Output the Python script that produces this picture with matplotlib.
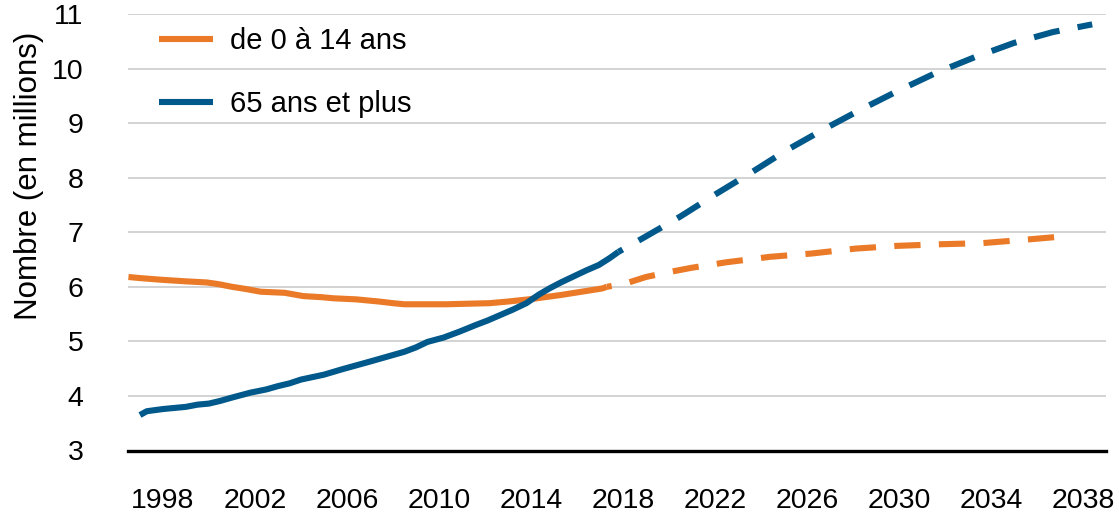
import matplotlib
matplotlib.use('Agg')
import matplotlib.pyplot as plt
from matplotlib.lines import Line2D

#Data (millions of people)
years_0_14 = [1996.5, 1997.0, 1997.9, 1999.0, 1999.9, 2000.4, 2001.0, 2001.6, 2002.25,
	2003.3, 2004.1, 2004.9, 2005.4, 2006.4, 2007.4, 2008.0, 2008.5, 2010.3, 2012.2,
	2013.0, 2013.9, 2014.6, 2015.3, 2016.2, 2017.1, 2017.3]
pop_0_14 = [6.18, 6.16, 6.13, 6.10, 6.08, 6.05, 6.00, 5.96, 5.91,
	5.89, 5.83, 5.81, 5.79, 5.77, 5.73, 5.70, 5.68, 5.68, 5.70,
	5.73, 5.77, 5.81, 5.85, 5.91, 5.97, 6.00]

years_65 = [1997.0, 1997.3, 1998.0, 1999.0, 1999.5, 2000.0, 2000.5, 2001.0, 2001.8,
	2002.5, 2003.0, 2003.5, 2004.0, 2005.0, 2005.8, 2006.4, 2007.0, 2007.5, 2008.5,
	2009.0, 2009.5, 2010.2, 2010.9, 2011.6, 2012.1, 2012.65, 2013.2, 2013.8, 2014.35,
	2014.8, 2015.3, 2015.8, 2016.4, 2016.95, 2017.4, 2017.8]
pop_65 = [3.65, 3.72, 3.76, 3.80, 3.84, 3.86, 3.91, 3.97, 4.06,
	4.12, 4.18, 4.23, 4.30, 4.39, 4.49, 4.56, 4.63, 4.69, 4.81,
	4.89, 4.99, 5.07, 5.18, 5.30, 5.38, 5.48, 5.58, 5.70, 5.86,
	5.97, 6.08, 6.18, 6.30, 6.40, 6.52, 6.64]

#Projections (dashed)
proj_years_0_14 = [2017.3, 2018.1, 2019.0, 2020.0, 2021.0, 2022.5, 2024.4, 2026.2,
	2028.1, 2029.9, 2031.8, 2033.6, 2035.4, 2037.3]
proj_0_14 = [6.00, 6.06, 6.18, 6.27, 6.35, 6.45, 6.55, 6.61,
	6.70, 6.75, 6.78, 6.80, 6.86, 6.93]

proj_years_65 = [2017.8, 2018.9, 2020.5, 2022.0, 2023.6, 2025.1, 2026.7, 2028.3,
	2029.9, 2031.6, 2033.3, 2035.0, 2036.7, 2038.4]
proj_65 = [6.64, 6.90, 7.29, 7.69, 8.10, 8.50, 8.88, 9.24,
	9.58, 9.92, 10.21, 10.47, 10.67, 10.81]

labels = ['de 0 à 14 ans', '65 ans et plus']
xticks = list(range(1998, 2039, 4))
yticks = list(range(3, 12))

ORANGE = '#EA7A28'
BLUE = '#00598A'
LW = 4.4
DASH = (3.5, (4.3, 3.0))

plt.rcParams['font.family'] = ['Liberation Sans', 'DejaVu Sans']

W, H = 1119, 512
fig = plt.figure(figsize=(W / 100, H / 100), dpi=100)
ax = fig.add_axes([128 / W, 1 - 450.5 / H, (1106 - 128) / W, (450.5 - 14) / H])

#Historic series
ax.plot(years_0_14, pop_0_14, color=ORANGE, lw=LW, solid_capstyle='butt', zorder=3)
ax.plot(years_65, pop_65, color=BLUE, lw=LW, solid_capstyle='butt', zorder=4)

#Projections, dash pattern starts with a gap
ax.plot(proj_years_0_14, proj_0_14, color=ORANGE, lw=LW,
	linestyle=DASH, dash_capstyle='butt', zorder=3)
ax.plot(proj_years_65, proj_65, color=BLUE, lw=LW,
	linestyle=DASH, dash_capstyle='butt', zorder=4)

#Axes
ax.set_xlim(1996.48, 2039.0)
ax.set_ylim(3, 11)
ax.set_xticks(xticks)
ax.set_yticks(yticks)
ax.tick_params(axis='both', length=0, labelsize=20.5)
ax.tick_params(axis='y', pad=32)
ax.tick_params(axis='x', pad=27)
for s in ['left', 'right', 'top']:
	ax.spines[s].set_visible(False)
ax.spines['bottom'].set_linewidth(2.4)
ax.spines['bottom'].set_color('black')
ax.spines['bottom'].set_zorder(5)
ax.grid(axis='y', color='#D0D0D0', lw=1.3)
ax.set_axisbelow(True)

fig.text(29 / W, 1 - 176 / H, 'Nombre (en millions)', rotation=90,
	ha='center', va='center', fontsize=22.5)

#Legend
handles = [Line2D([], [], color=ORANGE, lw=LW, solid_capstyle='butt'),
	Line2D([], [], color=BLUE, lw=LW, solid_capstyle='butt')]
ax.legend(handles, labels, loc='upper left', frameon=False, fontsize=21,
	bbox_to_anchor=(159 / W, 1 - 27 / H), bbox_transform=fig.transFigure,
	borderpad=0, borderaxespad=0, handlelength=1.85, handletextpad=0.58,
	labelspacing=1.2)

plt.savefig('out.png', dpi=100)
